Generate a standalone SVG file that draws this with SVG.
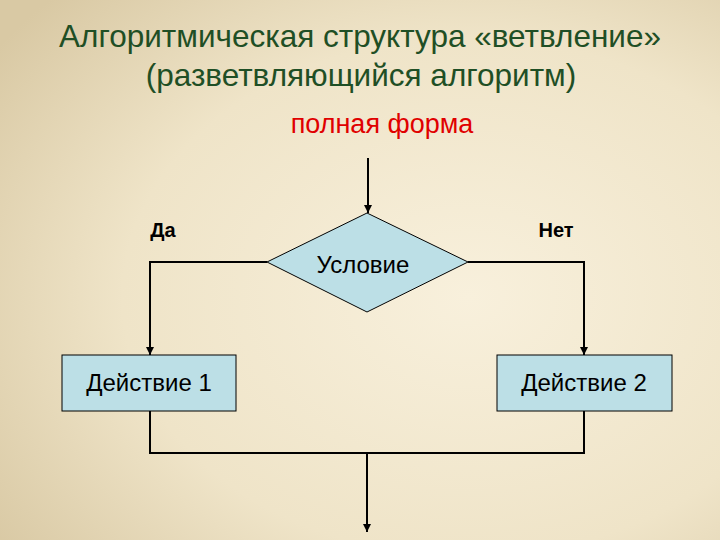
<svg xmlns="http://www.w3.org/2000/svg" width="720" height="540" viewBox="0 0 720 540">
<defs>
<radialGradient id="bg" cx="0.65" cy="0.55" r="0.8">
<stop offset="0" stop-color="#f8f0dc"/><stop offset="0.6" stop-color="#efe4c8"/><stop offset="1" stop-color="#d9c9a4"/>
</radialGradient>
<marker id="ah" viewBox="0 0 10 10" refX="10" refY="5" markerWidth="4" markerHeight="4" orient="auto"><path d="M0,0L10,5L0,10z" fill="#000"/></marker>
<style>
.t{font-family:"Liberation Sans",Arial,sans-serif}
.n{fill:#bcdfe6;stroke:#000;stroke-width:1}
.c{fill:none;stroke:#000;stroke-width:2}
</style>
</defs>
<rect width="720" height="540" fill="url(#bg)"/>
<text class="t" x="360" y="47" text-anchor="middle" font-size="31.5" fill="#1f4f25">Алгоритмическая структура «ветвление»</text>
<text class="t" x="361" y="86" text-anchor="middle" font-size="31.5" fill="#1f4f25">(разветвляющийся алгоритм)</text>
<text class="t" x="382" y="133" text-anchor="middle" font-size="27" fill="#e00000">полная форма</text>
<text class="t" x="163" y="237" text-anchor="middle" font-size="20" font-weight="bold">Да</text>
<text class="t" x="556" y="237" text-anchor="middle" font-size="20" font-weight="bold">Нет</text>
<g id="connectors">
<line class="c" x1="368" y1="158" x2="368" y2="213" marker-end="url(#ah)"/>
<polyline class="c" points="267,262 150,262 150,355" marker-end="url(#ah)"/>
<polyline class="c" points="468,262 584,262 584,355" marker-end="url(#ah)"/>
<line class="c" x1="150" y1="411" x2="150" y2="453"/>
<line class="c" x1="584" y1="411" x2="584" y2="453"/>
<line class="c" x1="149" y1="453" x2="585" y2="453"/>
<line class="c" x1="367" y1="453" x2="367" y2="532" marker-end="url(#ah)"/>
</g>
<g id="cond"><polygon class="n" points="367,213 468,262 367,312 267,262"/><text class="t" x="363" y="273" text-anchor="middle" font-size="24">Условие</text></g>
<g id="act1"><rect class="n" x="62" y="355" width="174" height="56"/><text class="t" x="149" y="391" text-anchor="middle" font-size="24">Действие 1</text></g>
<g id="act2"><rect class="n" x="497" y="355" width="175" height="56"/><text class="t" x="584" y="391" text-anchor="middle" font-size="24">Действие 2</text></g>
</svg>
